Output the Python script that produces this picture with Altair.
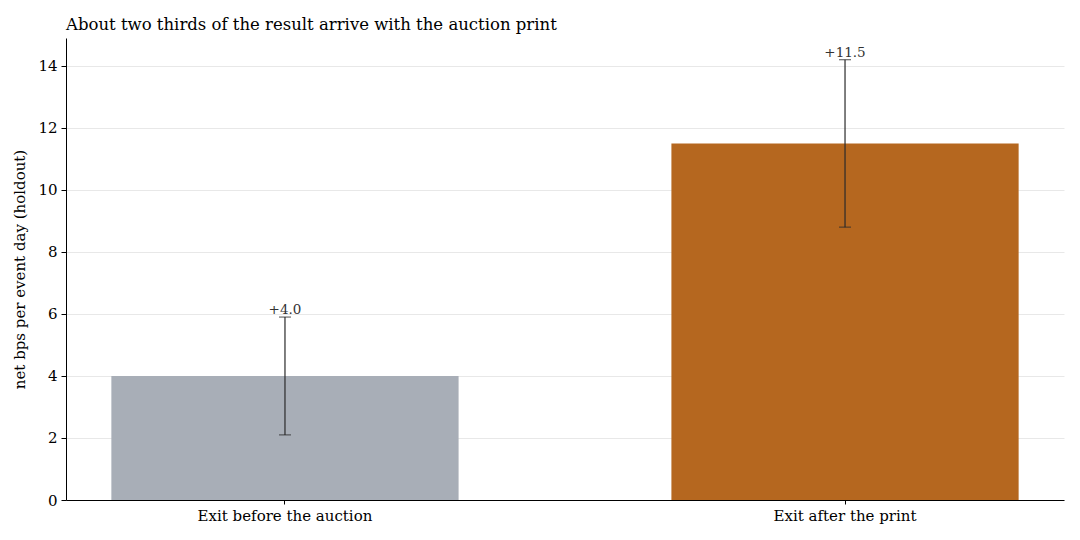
import altair as alt
import pandas as pd

categories = ["Exit before the auction", "Exit after the print"]
values = [4.0, 11.5]
err_low = [2.1, 8.8]
err_high = [5.9, 14.2]
labels = ["+4.0", "+11.5"]
colors = ["#a8aeb7", "#b5671f"]

df = pd.DataFrame({
    "cat": categories,
    "val": values,
    "lo": err_low,
    "hi": err_high,
    "lab": labels,
    "col": colors,
})

FONT = "DejaVu Serif"

x = alt.X("cat:N", sort=categories, title=None,
          scale=alt.Scale(paddingInner=0.38, paddingOuter=0.081),
          axis=alt.Axis(labelAngle=0, labelFontSize=15, labelColor="#000",
                        tickColor="#000", domainColor="#000", labelPadding=4,
                        tickSize=4, grid=False))

bars = alt.Chart(df).mark_bar().encode(
    x=x,
    y=alt.Y("val:Q", title="net bps per event day (holdout)",
            scale=alt.Scale(domain=[0, 14.9], nice=False),
            axis=alt.Axis(values=[0, 2, 4, 6, 8, 10, 12, 14], labelFontSize=15,
                          titleFontSize=15, titleFontWeight="normal",
                          labelColor="#000", titleColor="#000",
                          tickColor="#000", domainColor="#000", tickSize=5,
                          labelPadding=4,
                          gridColor="#e8e8e8", titlePadding=10)),
    color=alt.Color("col:N", scale=None),
)

rules = alt.Chart(df).mark_rule(color="#2b2b2b", strokeWidth=1.2).encode(
    x=alt.X("cat:N", sort=categories),
    y="lo:Q",
    y2="hi:Q",
)

caps_lo = alt.Chart(df).mark_tick(color="#2b2b2b", orient="horizontal",
                                  size=12, thickness=1.2).encode(
    x=alt.X("cat:N", sort=categories), y="lo:Q")
caps_hi = alt.Chart(df).mark_tick(color="#2b2b2b", orient="horizontal",
                                  size=12, thickness=1.2).encode(
    x=alt.X("cat:N", sort=categories), y="hi:Q")

text = alt.Chart(df).mark_text(font=FONT, fontSize=13.5, color="#333",
                               baseline="bottom", dy=0).encode(
    x=alt.X("cat:N", sort=categories), y="hi:Q", text="lab:N")

chart = alt.layer(bars, rules, caps_lo, caps_hi, text).properties(
    width=998, height=462,
    title=alt.TitleParams("About two thirds of the result arrive with the auction print",
                          anchor="start", frame="group", fontSize=16.5,
                          fontWeight="normal",
                          font=FONT, color="#000", offset=5),
    autosize=alt.AutoSizeParams(type="none"),
    padding={"left": 58, "top": 30, "right": 8, "bottom": 30},
).configure(font=FONT).configure_view(stroke=None).configure_axis(
    labelFont=FONT, titleFont=FONT)

chart.save("out.html", embed_options={"renderer": "svg", "actions": False})
